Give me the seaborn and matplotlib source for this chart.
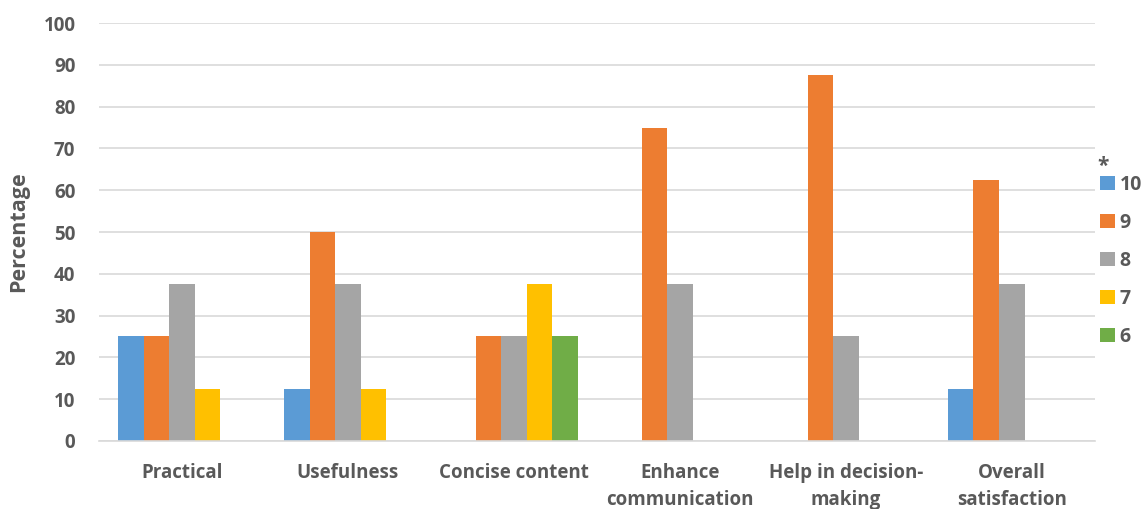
import seaborn as sns
import pandas as pd
import matplotlib.pyplot as plt

# datos
categories = ['Practical', 'Usefulness', 'Concise content',
              'Enhance\ncommunication', 'Help in decision-\nmaking', 'Overall\nsatisfaction']
scores = ['10', '9', '8', '7', '6']
score_10 = [25, 12.5, 0, 0, 0, 12.5]
score_9 = [25, 50, 25, 75, 87.5, 62.5]
score_8 = [37.5, 37.5, 25, 37.5, 25, 37.5]
score_7 = [12.5, 12.5, 37.5, 0, 0, 0]
score_6 = [0, 0, 25, 0, 0, 0]
yticks = [0, 10, 20, 30, 40, 50, 60, 70, 80, 90, 100]

colors = ['#5B9BD5', '#ED7D31', '#A5A5A5', '#FFC000', '#70AD47']
text_color = '#595959'

series = [score_10, score_9, score_8, score_7, score_6]
rows = []
for s, vals in zip(scores, series):
    for c, v in zip(categories, vals):
        rows.append({'Category': c, 'Score': s, 'Percentage': v})
data = pd.DataFrame(rows)

sns.set_style("white")
plt.rcParams['font.family'] = ['Open Sans', 'DejaVu Sans']

fig = plt.figure(figsize=(11.44, 5.09), dpi=100)
ax = fig.add_axes([0.0865, 0.1336, 0.8705, 0.8212])

sns.barplot(data=data, x='Category', y='Percentage', hue='Score',
            order=categories, hue_order=scores, palette=colors,
            width=0.77, linewidth=0, saturation=1, ax=ax, errorbar=None)

ax.set_ylim(0, 100)
ax.set_yticks(yticks)
ax.set_xlim(-0.5, len(categories) - 0.5)
ax.yaxis.grid(True, color='#D9D9D9', linewidth=1.2)
ax.set_axisbelow(True)
for side in ['top', 'right', 'left']:
    ax.spines[side].set_visible(False)
ax.spines['bottom'].set_color('#D9D9D9')
ax.spines['bottom'].set_linewidth(1.2)
ax.tick_params(axis='both', length=0, labelsize=13.5, labelcolor=text_color)
ax.tick_params(axis='y', pad=17)
ax.tick_params(axis='x', pad=16)
for lbl in ax.get_yticklabels():
    lbl.set_fontweight('bold')
for lbl in ax.get_xticklabels():
    lbl.set_fontweight('bold')
    lbl.set_linespacing(1.45)
ax.set_xlabel('')
ax.set_ylabel('Percentage', fontsize=15.5, fontweight='bold', color=text_color, labelpad=10)

leg = ax.legend(loc='upper left', bbox_to_anchor=(0.955, 0.672),
                bbox_transform=fig.transFigure, frameon=False,
                handlelength=0.75, handleheight=0.75, handletextpad=0.25,
                labelspacing=0.93, borderaxespad=0,
                prop={'size': 14, 'weight': 'bold'})
for t in leg.get_texts():
    t.set_color(text_color)
fig.text(1103 / 1144, 1 - 166 / 509, '*', fontsize=15, fontweight='bold',
         color=text_color, ha='center', va='center')

fig.savefig('out.png', dpi=100)
